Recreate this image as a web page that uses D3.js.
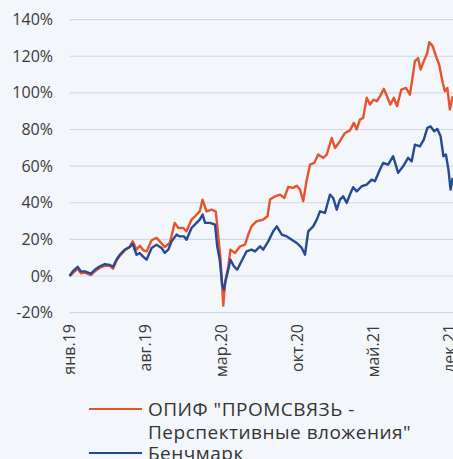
<!DOCTYPE html>
<html>
<head>
<meta charset="utf-8">
<script src="https://cdn.jsdelivr.net/npm/d3@7"></script>
<style>
  body { margin: 0; background: #f3f6fa; }
  svg { display: block; font-family: "Open Sans", sans-serif; }
</style>
</head>
<body>
<svg id="chart"></svg>
<script>
const W = 453, H = 459;
const margin = { top: 19.6, left: 69.5, bottom: 312.6 };

const yTicks = [-20, 0, 20, 40, 60, 80, 100, 120, 140];
const xTickDates = ["2019-01-01", "2019-08-01", "2020-03-01", "2020-10-01", "2021-05-01", "2021-12-01"];
const xTickLabels = ["янв.19", "авг.19", "мар.20", "окт.20", "май.21", "дек.21"];

const seriesNames = ["ОПИФ \"ПРОМСВЯЗЬ -\nПерспективные вложения\"", "Бенчмарк"];
const colors = ["#e8532b", "#254a92"];

// fund (orange)
const fundDates = [
  "2019-01-01","2019-01-10","2019-01-24","2019-02-02","2019-02-13","2019-03-02","2019-03-13","2019-03-27",
  "2019-04-10","2019-04-24","2019-05-03","2019-05-13","2019-05-22","2019-06-05","2019-06-19","2019-06-27",
  "2019-07-08","2019-07-17","2019-07-27","2019-08-05","2019-08-19","2019-09-02","2019-09-11","2019-09-25",
  "2019-10-09","2019-10-23","2019-11-02","2019-11-16","2019-11-25","2019-12-09","2019-12-21","2020-01-01",
  "2020-01-09","2020-01-20","2020-02-03","2020-02-15","2020-02-22","2020-02-28","2020-03-07","2020-03-12",
  "2020-03-21","2020-03-27","2020-04-09","2020-04-23","2020-05-07","2020-05-16","2020-05-25","2020-06-08",
  "2020-06-27","2020-07-09","2020-07-16","2020-07-30","2020-08-13","2020-08-25","2020-09-05","2020-09-19",
  "2020-09-29","2020-10-08","2020-10-17","2020-10-27","2020-11-05","2020-11-17","2020-11-28","2020-12-12",
  "2020-12-22","2021-01-05","2021-01-14","2021-01-28","2021-02-11","2021-02-25","2021-03-08","2021-03-16",
  "2021-03-25","2021-04-03","2021-04-13","2021-04-22","2021-05-02","2021-05-11","2021-05-20","2021-05-31",
  "2021-06-09","2021-06-18","2021-06-28","2021-07-07","2021-07-19","2021-08-01","2021-08-12","2021-08-20",
  "2021-08-26","2021-09-04","2021-09-11","2021-09-20","2021-09-30","2021-10-05","2021-10-15","2021-10-24",
  "2021-11-02","2021-11-12","2021-11-18","2021-11-25","2021-12-02","2021-12-10"
];
const fundValues = [
  0, 1.5, 4, 1.5, 1.8, 0.5, 2.5, 4.5,
  5.5, 5.5, 4, 8.5, 11, 14, 16, 18.9,
  14.5, 16.5, 14, 13.4, 19.5, 20.8, 18.9, 15.8,
  18, 29, 26.2, 26.2, 24.4, 30.8, 33, 35.3,
  41.7, 35.3, 36.2, 35.3, 21.6, 9.8, -16.2, -3.8,
  5.2, 14.4, 12.6, 16.2, 17.1, 22.6, 27.1, 29.8,
  30.8, 32.6, 41.7, 43.5, 44.4, 42.6, 48.6, 48.1,
  49.3, 47.2, 40.8, 52.6, 60.8, 61.7, 66.3, 64.5,
  66.3, 75.4, 69.9, 73.6, 78.1, 79.5, 83.6, 80,
  85.4, 86.3, 97.3, 93.6, 96.3, 95.4, 98.1, 102.2,
  98.1, 93.6, 97.3, 92.7, 101.8, 102.7, 99, 109,
  117.3, 119, 112.7, 117.3, 121.9, 127.7, 125.5, 120,
  115.5, 105.5, 100.9, 102.7, 90.9, 98.1
];

// benchmark (blue)
const benchDates = [
  "2019-01-01","2019-01-10","2019-01-24","2019-02-02","2019-02-13","2019-03-02","2019-03-13","2019-03-27",
  "2019-04-10","2019-04-24","2019-05-03","2019-05-13","2019-05-22","2019-06-05","2019-06-19","2019-06-27",
  "2019-07-08","2019-07-17","2019-07-27","2019-08-05","2019-08-19","2019-09-02","2019-09-16","2019-09-25",
  "2019-10-05","2019-10-14","2019-10-28","2019-11-06","2019-11-18","2019-11-25","2019-12-09","2019-12-23",
  "2020-01-01","2020-01-09","2020-01-16","2020-01-30","2020-02-13","2020-02-19","2020-02-26","2020-03-04",
  "2020-03-09","2020-03-14","2020-03-21","2020-03-27","2020-04-06","2020-04-15","2020-04-27","2020-05-11",
  "2020-05-25","2020-06-04","2020-06-18","2020-06-27","2020-07-11","2020-07-25","2020-08-04","2020-08-18",
  "2020-09-01","2020-09-15","2020-09-29","2020-10-13","2020-10-22","2020-10-31","2020-11-14","2020-11-24",
  "2020-12-03","2020-12-17","2020-12-31","2021-01-09","2021-01-19","2021-01-28","2021-02-06","2021-02-16",
  "2021-02-25","2021-03-06","2021-03-16","2021-03-30","2021-04-13","2021-04-27","2021-05-06","2021-05-20",
  "2021-05-29","2021-06-12","2021-06-26","2021-07-10","2021-07-24","2021-08-07","2021-08-17","2021-08-26",
  "2021-09-09","2021-09-20","2021-09-30","2021-10-09","2021-10-19","2021-10-28","2021-11-06","2021-11-14",
  "2021-11-21","2021-11-28","2021-12-04","2021-12-10"
];
const benchValues = [
  0, 2.5, 5, 2.5, 2.5, 1.3, 3.4, 5.3,
  6.5, 6, 5, 9, 11.6, 14.4, 15.8, 17.6,
  11.6, 12.5, 10.4, 8.9, 15.3, 17, 15.3, 12.6,
  14.4, 18.9, 22.6, 21.6, 21.6, 19.8, 26.2, 29,
  30.8, 33.5, 29, 29, 28, 16.2, 8.9, -4.8,
  -7.5, -2, 3.4, 8.9, 5.2, 3.4, 8, 13.4,
  14.4, 13.4, 16.2, 14.4, 18.9, 24.4, 27.1, 22.6,
  21.6, 19.8, 18, 15.3, 11.6, 24.4, 27.1, 30.8,
  35.3, 34.4, 44.4, 42.6, 36.2, 41.7, 43.5, 39.9,
  44.5, 48.5, 46.2, 49, 49.9, 52.6, 51.7, 58.1,
  61.7, 60.8, 65.4, 56.3, 59.9, 64.5, 62.6, 71.7,
  70.8, 74.5, 80.9, 81.7, 79, 80.3, 76.3, 65.4,
  66.3, 58.1, 47.2, 53.6
];

const parseDate = d3.timeParse("%Y-%m-%d");

const svg = d3.select("#chart").attr("width", W).attr("height", H);

const x = d3.scaleTime()
  .domain([parseDate("2019-01-01"), parseDate("2021-12-01")])
  .range([margin.left, 449.5]);

const y = d3.scaleLinear()
  .domain([-20, 140])
  .range([margin.bottom, margin.top]);

// grid + y labels
svg.append("g")
  .selectAll("line")
  .data(yTicks)
  .join("line")
  .attr("x1", margin.left)
  .attr("x2", W)
  .attr("y1", d => y(d))
  .attr("y2", d => y(d))
  .attr("stroke", "#c9dbe7")
  .attr("stroke-width", 1.2);

svg.append("g")
  .selectAll("text")
  .data(yTicks)
  .join("text")
  .attr("x", 53)
  .attr("y", d => y(d))
  .attr("dy", "0.35em")
  .attr("text-anchor", "end")
  .style("font-size", "16px")
  .style("fill", "#3a3a3a")
  .text(d => d + "%");

// x labels
svg.append("g")
  .selectAll("text")
  .data(xTickDates)
  .join("text")
  .attr("transform", d => `translate(${x(parseDate(d))},324) rotate(-90)`)
  .attr("dy", "0.35em")
  .attr("text-anchor", "end")
  .style("font-size", "16px")
  .style("fill", "#3a3a3a")
  .text((d, i) => xTickLabels[i]);

const line = d3.line()
  .x(d => x(d.date))
  .y(d => y(d.value));

const fund = fundDates.map((d, i) => ({ date: parseDate(d), value: fundValues[i] }));
const bench = benchDates.map((d, i) => ({ date: parseDate(d), value: benchValues[i] }));

svg.append("path")
  .datum(fund)
  .attr("fill", "none")
  .attr("stroke", colors[0])
  .attr("stroke-width", 2.4)
  .attr("stroke-linejoin", "round")
  .attr("d", line);

svg.append("path")
  .datum(bench)
  .attr("fill", "none")
  .attr("stroke", colors[1])
  .attr("stroke-width", 2.4)
  .attr("stroke-linejoin", "round")
  .attr("d", line);

// legend
const legendY = [409, 453];
seriesNames.forEach((name, i) => {
  const g = svg.append("g").attr("transform", `translate(89,${legendY[i]})`);
  g.append("line")
    .attr("x1", 0).attr("x2", 53)
    .attr("y1", 0).attr("y2", 0)
    .attr("stroke", colors[i])
    .attr("stroke-width", 2);
  const t = g.append("text")
    .attr("x", 59)
    .attr("y", 6.5)
    .style("font-size", "19px")
    .style("letter-spacing", "0.5px")
    .style("fill", "#333");
  name.split("\n").forEach((part, j) => {
    t.append("tspan").attr("x", 59).attr("dy", j === 0 ? 0 : 23).text(part);
  });
});
</script>
</body>
</html>
